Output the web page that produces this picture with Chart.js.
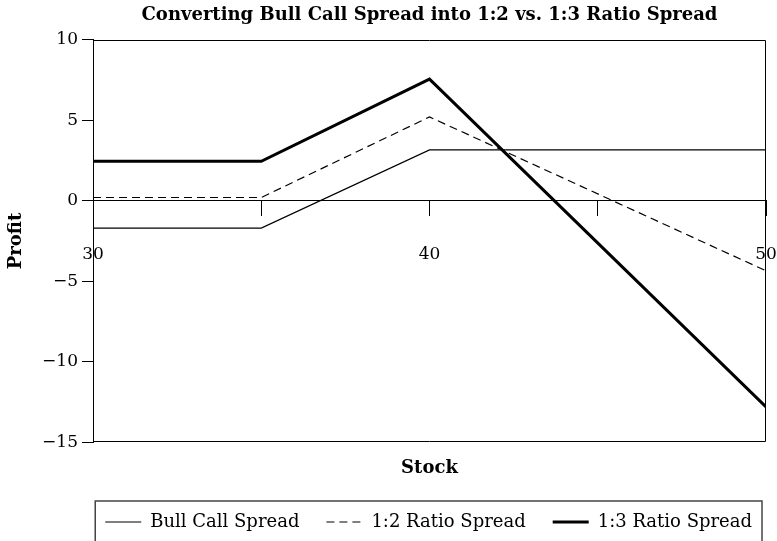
<!DOCTYPE html>
<html>
<head>
<meta charset="utf-8">
<script src="https://cdn.jsdelivr.net/npm/chart.js@4/dist/chart.umd.min.js"></script>
<style>
  html, body { margin: 0; padding: 0; background: #fff; }
  #wrap { width: 777px; height: 541px; }
</style>
</head>
<body>
<div id="wrap"><canvas id="chart" width="777" height="541"></canvas></div>
<script>
// stock prices where the payoff lines bend
const stock = [30, 35, 40, 50];
const bullCall = [-1.7, -1.7, 3.15, 3.15];
const ratio12 = [0.2, 0.2, 5.2, -4.35];
const ratio13 = [2.45, 2.45, 7.55, -12.8];

const xTicks = [30, 35, 40, 45, 50];
const xLabels = [30, 40, 50];
const yTicks = [-15, -10, -5, 0, 5, 10];

const serif = "'DejaVu Serif', serif";

function points(values) {
  return stock.map((s, i) => ({ x: s, y: values[i] }));
}

// box round the plot area and round the legend
const frames = {
  id: 'frames',
  afterDraw(chart) {
    const ctx = chart.ctx;
    const a = chart.chartArea;
    ctx.save();
    ctx.strokeStyle = '#000';
    ctx.lineWidth = 1;
    const l = Math.round(a.left) + 0.5, r = Math.round(a.right) - 0.5;
    const t = Math.round(a.top) + 0.5, b = Math.round(a.bottom) - 0.5;
    ctx.beginPath();
    ctx.moveTo(l, t);
    ctx.lineTo(r, t);
    ctx.lineTo(r, b);
    ctx.lineTo(l, b);
    ctx.stroke();

    const boxes = chart.legend.legendHitBoxes;
    if (boxes.length) {
      const left = Math.min(...boxes.map(h => h.left)) - 10;
      const right = Math.max(...boxes.map(h => h.left + h.width)) + 10;
      const top = boxes[0].top + boxes[0].height / 2 - 21;
      ctx.strokeStyle = '#444';
      ctx.lineWidth = 1.5;
      ctx.strokeRect(left, top, right - left, chart.height - top + 20);
    }
    ctx.restore();
  }
};

// legend samples take the dash and width of their line
function legendLabels(chart) {
  const items = Chart.defaults.plugins.legend.labels.generateLabels(chart);
  return items.map(item => {
    const ds = chart.data.datasets[item.datasetIndex];
    return Object.assign(item, {
      strokeStyle: ds.borderColor,
      lineWidth: ds.borderWidth,
      lineDash: ds.borderDash || []
    });
  });
}

new Chart(document.getElementById('chart'), {
  type: 'line',
  data: {
    datasets: [
      {
        label: 'Bull Call Spread',
        data: points(bullCall),
        borderColor: '#000',
        borderWidth: 1.2
      },
      {
        label: '1:2 Ratio Spread',
        data: points(ratio12),
        borderColor: '#000',
        borderWidth: 1.2,
        borderDash: [8, 5]
      },
      {
        label: '1:3 Ratio Spread',
        data: points(ratio13),
        borderColor: '#000',
        borderWidth: 3
      }
    ]
  },
  options: {
    responsive: false,
    animation: false,
    devicePixelRatio: 1,
    elements: {
      point: { radius: 0 },
      line: { tension: 0, fill: false }
    },
    layout: {
      autoPadding: false,
      padding: { left: 0, right: -2, top: 0, bottom: 0 }
    },
    scales: {
      x: {
        type: 'linear',
        position: { y: 0 },
        min: 30,
        max: 50,
        afterBuildTicks: s => { s.ticks = xTicks.map(v => ({ value: v })); },
        afterFit: s => {
          s.height = 0;
          s.paddingLeft = 0;
          s.paddingRight = 11;
        },
        ticks: {
          autoSkip: false,
          maxRotation: 0,
          padding: 29,
          color: '#000',
          font: { family: serif, size: 17 },
          callback: v => xLabels.includes(v) ? String(v) : ''
        },
        grid: { drawOnChartArea: false, tickLength: 15, tickColor: '#000' },
        border: { color: '#000', width: 1 }
      },
      y: {
        min: -15,
        max: 10,
        afterBuildTicks: s => { s.ticks = yTicks.map(v => ({ value: v })); },
        afterFit: s => { s.width = 93; },
        ticks: {
          padding: 4,
          color: '#000',
          font: { family: serif, size: 17 },
          callback: v => v < 0 ? '\u2212' + Math.abs(v) : String(v)
        },
        grid: { drawOnChartArea: false, tickLength: 11, tickColor: '#000' },
        border: { color: '#000', width: 1 },
        title: {
          display: true,
          text: 'Profit',
          color: '#000',
          font: { family: serif, size: 18, weight: 'bold' },
          padding: { top: 6, bottom: 0 }
        }
      }
    },
    plugins: {
      title: {
        display: true,
        fullSize: false,
        text: 'Converting Bull Call Spread into 1:2 vs. 1:3 Ratio Spread',
        color: '#000',
        font: { family: serif, size: 18, weight: 'bold' },
        padding: { top: 5, bottom: 13 }
      },
      subtitle: {
        display: true,
        position: 'bottom',
        weight: 500,
        fullSize: false,
        text: 'Stock',
        color: '#000',
        font: { family: serif, size: 18, weight: 'bold' },
        padding: { top: 15, bottom: 7 }
      },
      legend: {
        position: 'bottom',
        align: 'end',
        maxHeight: 60,
        labels: {
          usePointStyle: true,
          pointStyle: 'line',
          pointStyleWidth: 36,
          padding: 27,
          color: '#000',
          font: { family: serif, size: 18 },
          generateLabels: legendLabels
        }
      },
      tooltip: { enabled: false }
    }
  },
  plugins: [frames]
});
</script>
</body>
</html>
